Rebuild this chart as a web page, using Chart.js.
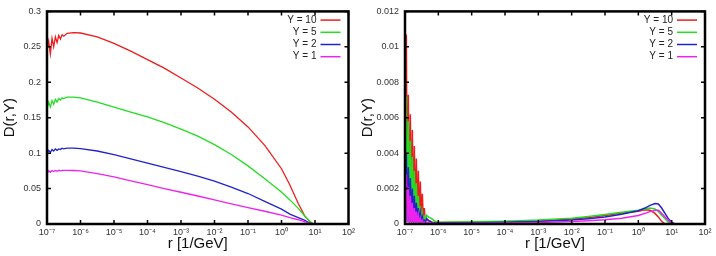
<!DOCTYPE html>
<html>
<head>
<meta charset="utf-8">
<title>D(r,Y)</title>
<script src="https://cdn.jsdelivr.net/npm/chart.js@4.4.1/dist/chart.umd.min.js"></script>
<style>
  body { margin: 0; background: #fff; }
  #wrap { position: relative; width: 716px; height: 256px; }
  canvas { position: absolute; top: 0; }
</style>
</head>
<body>
<div id="wrap">
  <canvas id="leftChart" width="358" height="256" style="left:0"></canvas>
  <canvas id="rightChart" width="358" height="256" style="left:358px"></canvas>
</div>
<script>
// series shared by both panels
const seriesNames = ['Y = 10', 'Y = 5', 'Y = 2', 'Y = 1'];
const seriesColors = ['#ee1c1c', '#22dd22', '#2222cc', '#ee22ee'];

// x axis: decades (log10 of r)
const xTickExp = [-7, -6, -5, -4, -3, -2, -1, 0, 1, 2];
const xTickLabels = ['10⁻⁷', '10⁻⁶', '10⁻⁵', '10⁻⁴', '10⁻³', '10⁻²', '10⁻¹', '10⁰', '10¹', '10²'];

// ---- left panel ----
const leftYTicks = [0, 0.05, 0.1, 0.15, 0.2, 0.25, 0.3];
const leftYLabels = ['0', '0.05', '0.1', '0.15', '0.2', '0.25', '0.3'];
const leftExp = [-7, -6.95, -6.9, -6.85, -6.8, -6.75, -6.7, -6.65, -6.6, -6.55, -6.5, -6.4, -6.2, -6,
  -5.5, -5, -4.5, -4, -3.5, -3, -2.5, -2, -1.5, -1, -0.5, 0, 0.25, 0.5, 0.7, 0.85, 0.95];
const leftY10 = [0.245, 0.258, 0.240, 0.262, 0.250, 0.264, 0.256, 0.266, 0.261, 0.267, 0.265, 0.269, 0.270, 0.2695,
  0.264, 0.255, 0.244, 0.232, 0.220, 0.206, 0.192, 0.176, 0.158, 0.137, 0.111, 0.078, 0.055, 0.029, 0.011, 0.003, 0];
const leftY5 = [0.162, 0.172, 0.165, 0.174, 0.169, 0.176, 0.172, 0.177, 0.175, 0.178, 0.177, 0.179, 0.179, 0.178,
  0.172, 0.165, 0.158, 0.151, 0.143, 0.134, 0.124, 0.112, 0.098, 0.082, 0.064, 0.045, 0.034, 0.022, 0.011, 0.004, 0];
const leftY2 = [0.100, 0.104, 0.101, 0.105, 0.103, 0.106, 0.104, 0.106, 0.105, 0.107, 0.106, 0.107, 0.107, 0.1065,
  0.103, 0.098, 0.092, 0.086, 0.080, 0.074, 0.0675, 0.0605, 0.052, 0.043, 0.032, 0.021, 0.014, 0.009, 0.005, 0.001, 0];
const leftY1 = [0.071, 0.075, 0.073, 0.0755, 0.074, 0.0755, 0.0745, 0.0758, 0.075, 0.0757, 0.0756, 0.0757, 0.0755, 0.075,
  0.071, 0.0665, 0.061, 0.0554, 0.050, 0.0448, 0.0395, 0.034, 0.0285, 0.023, 0.018, 0.0125, 0.009, 0.006, 0.003, 0.001, 0];

// ---- right panel ----
const rightYTicks = [0, 0.002, 0.004, 0.006, 0.008, 0.01, 0.012];
const rightYLabels = ['0', '0.002', '0.004', '0.006', '0.008', '0.01', '0.012'];
const rightExp = [-7, -6.96, -6.93, -6.9, -6.87, -6.84, -6.81, -6.78, -6.75, -6.72, -6.69, -6.66, -6.63, -6.6,
  -6.57, -6.54, -6.51, -6.48, -6.45, -6.42, -6.39, -6.35, -6.3, -6.2, -6.1, -6, -5, -4, -3, -2, -1.5, -1, -0.5,
  0, 0.2, 0.35, 0.5, 0.6, 0.7, 0.8, 0.9, 1.0, 1.1, 1.2];
const rightY10 = [0.002, 0.0107, 0.0002, 0.0073, 0.0002, 0.0062, 0.0001, 0.0053, 0.0001, 0.0044, 0.0001, 0.0037, 0.0001, 0.0030,
  0.0001, 0.0024, 0.0001, 0.0017, 0.0001, 0.0009, 0.0001, 0.0003, 0.0002, 0.0001, 0.00008, 0.00008, 0.0001, 0.00012, 0.00016,
  0.00028, 0.00036, 0.00048, 0.00062, 0.00072, 0.0008, 0.00078, 0.0006, 0.0004, 0.00015, 0, null, null, null, null];
const rightY5 = [0.0015, 0.0072, 0.0002, 0.0058, 0.0001, 0.0047, 0.0001, 0.0038, 0.0001, 0.0030, 0.0001, 0.0023, 0.0001, 0.0016,
  0.0001, 0.0010, 0.0001, 0.0006, 0.0001, 0.0004, 0.0002, 0.0005, 0.0004, 0.0003, 0.00015, 0.0001, 0.00012, 0.00016, 0.00022,
  0.00033, 0.00042, 0.00053, 0.00066, 0.00078, 0.00085, 0.0009, 0.00085, 0.0007, 0.0005, 0.0003, 0.0001, 0, null, null];
const rightY2 = [0.0010, 0.0040, 0.0001, 0.0032, 0.0001, 0.0026, 0.0001, 0.0020, 0.0001, 0.0016, 0.0001, 0.0012, 0.0001, 0.0009,
  0.0001, 0.0006, 0.0001, 0.0004, 0.0001, 0.0002, 0.0001, 0.0003, 0.0002, 0.0001, 0.00006, 0.00005, 0.00007, 0.0001, 0.00014,
  0.00022, 0.0003, 0.0004, 0.00055, 0.00075, 0.0009, 0.00105, 0.00115, 0.00113, 0.0009, 0.0006, 0.0003, 0.0001, 0, null];
const rightY1 = [0.0008, 0.0028, 0.0001, 0.0021, 0, 0.0016, 0, 0.0012, 0, 0.0009, 0, 0.0007, 0, 0.0005,
  0, 0.0003, 0, 0.0002, 0, 0.0001, 0, 0.0001, 0.0001, 0.00005, 0.00004, 0.00003, 0.00004, 0.00006, 0.00009,
  0.00014, 0.00018, 0.00024, 0.00033, 0.00048, 0.0006, 0.0007, 0.00078, 0.00078, 0.0006, 0.0004, 0.0002, 0.00005, 0, null];

const FONT = '"Liberation Sans", Arial, sans-serif';

// frame, inward ticks on all four sides, and gnuplot style key
const framePlugin = {
  id: 'frame',
  afterDatasetsDraw(chart) {
    const { ctx, chartArea: a, scales: { x, y } } = chart;
    ctx.save();
    ctx.strokeStyle = '#000';
    ctx.lineWidth = 1.5;
    ctx.beginPath();
    x.ticks.forEach(t => {
      const px = x.getPixelForValue(t.value);
      ctx.moveTo(px, a.bottom); ctx.lineTo(px, a.bottom - 4);
      ctx.moveTo(px, a.top); ctx.lineTo(px, a.top + 4);
    });
    y.ticks.forEach(t => {
      const py = y.getPixelForValue(t.value);
      ctx.moveTo(a.left, py); ctx.lineTo(a.left + 4, py);
      ctx.moveTo(a.right, py); ctx.lineTo(a.right - 4, py);
    });
    ctx.stroke();
    ctx.lineWidth = 2.5;
    ctx.strokeRect(a.left, a.top, a.width, a.height);

    ctx.font = '10px ' + FONT;
    ctx.textAlign = 'right';
    ctx.textBaseline = 'middle';
    chart.data.datasets.forEach((ds, i) => {
      const yy = a.top + 8.7 + i * 12.2;
      ctx.fillStyle = '#222';
      ctx.fillText(ds.label, a.right - 32, yy);
      ctx.strokeStyle = ds.borderColor;
      ctx.lineWidth = 1.5;
      ctx.beginPath();
      ctx.moveTo(a.right - 28, yy);
      ctx.lineTo(a.right - 8, yy);
      ctx.stroke();
    });
    ctx.restore();
  }
};

function makeChart(id, exps, series, yTicks, yLabels, yMax, axisWidth, rightPad, lineWidth) {
  new Chart(document.getElementById(id), {
    type: 'line',
    data: {
      datasets: series.map((vals, i) => ({
        label: seriesNames[i],
        data: exps.map((e, j) => ({ x: Math.pow(10, e), y: vals[j] })),
        borderColor: seriesColors[i],
        borderWidth: lineWidth,
        pointRadius: 0,
        tension: 0,
        fill: false,
        order: series.length - 1 - i // later series on top, like gnuplot
      }))
    },
    options: {
      responsive: false,
      animation: false,
      layout: { padding: { top: 7, right: rightPad, left: 0, bottom: 0 } },
      plugins: { legend: { display: false }, tooltip: { enabled: false } },
      scales: {
        x: {
          type: 'logarithmic',
          min: 1e-7,
          max: 1e2,
          grid: { display: false, drawTicks: false },
          border: { display: false },
          afterBuildTicks: axis => { axis.ticks = xTickExp.map(e => ({ value: Math.pow(10, e) })); },
          afterFit: axis => { axis.height = 32; },
          ticks: {
            autoSkip: false, maxRotation: 0, padding: 3, color: '#333',
            font: { family: FONT, size: 9 },
            callback: (v, i) => xTickLabels[i]
          },
          title: {
            display: true, text: 'r [1/GeV]', color: '#111',
            font: { family: FONT, size: 15 },
            padding: { top: 0, bottom: 3 }
          }
        },
        y: {
          min: 0,
          max: yMax,
          grid: { display: false, drawTicks: false },
          border: { display: false },
          afterBuildTicks: axis => { axis.ticks = yTicks.map(v => ({ value: v })); },
          afterFit: axis => { axis.width = axisWidth; },
          ticks: {
            padding: 6, color: '#333',
            font: { family: FONT, size: 9 },
            callback: (v, i) => yLabels[i]
          },
          title: {
            display: true, text: 'D(r,Y)', color: '#111',
            font: { family: FONT, size: 15 },
            padding: { top: 1, bottom: 0 }
          }
        }
      }
    },
    plugins: [framePlugin]
  });
}

makeChart('leftChart', leftExp, [leftY10, leftY5, leftY2, leftY1],
  leftYTicks, leftYLabels, 0.3, 47, 9, 1.3);
makeChart('rightChart', rightExp, [rightY10, rightY5, rightY2, rightY1],
  rightYTicks, rightYLabels, 0.012, 47, 11, 1.5);
</script>
</body>
</html>
